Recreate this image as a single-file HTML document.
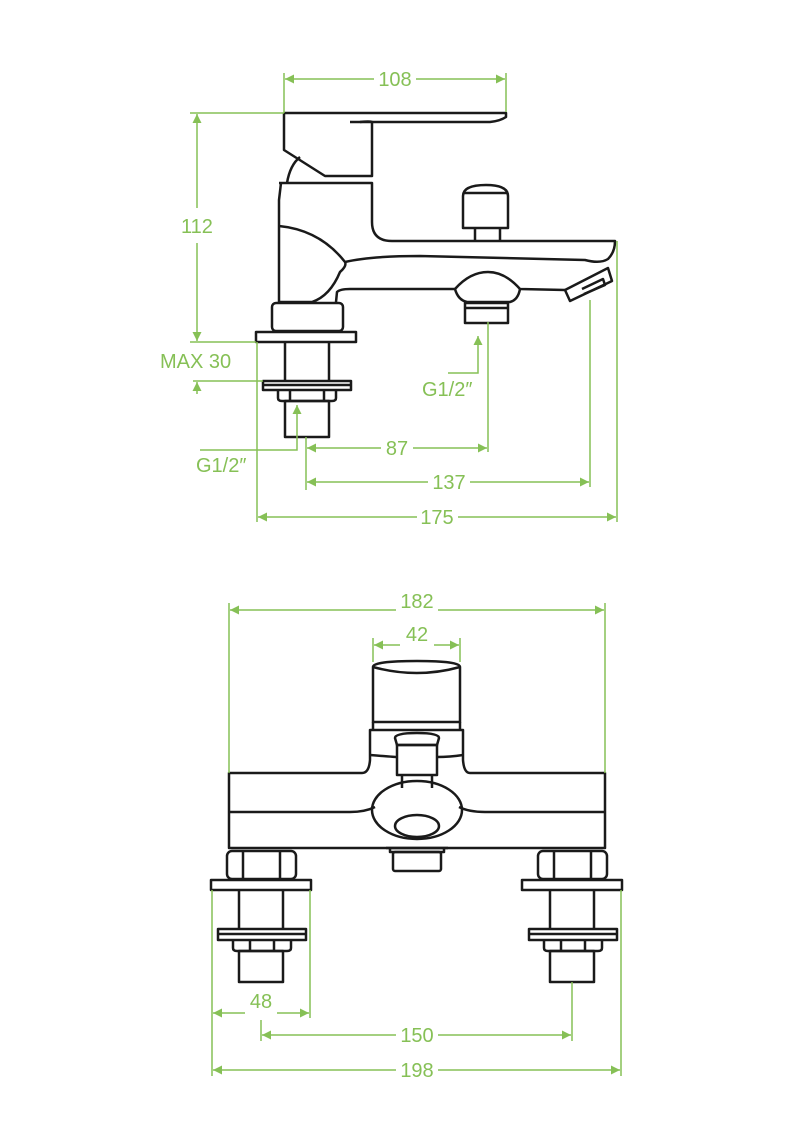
<!DOCTYPE html>
<html><head><meta charset="utf-8"><style>
html,body{margin:0;padding:0;background:#fff}
svg{display:block}
text{font-family:"Liberation Sans",sans-serif;font-size:20px;fill:#86c056}
</style></head><body>
<svg width="794" height="1123" viewBox="0 0 794 1123" xmlns="http://www.w3.org/2000/svg">
<defs>
<marker id="a" viewBox="0 0 10 10" refX="10" refY="5" markerWidth="12" markerHeight="9" orient="auto-start-reverse" markerUnits="userSpaceOnUse"><path d="M0,0 L10,5 L0,10 Z" fill="#86c056"/></marker>
</defs>
<!-- ============ SIDE VIEW ============ -->
<g fill="none" stroke="#1a1a1a" stroke-width="2.5" stroke-linejoin="round">
  <path d="M284,113 L506,113 L506,117 Q500,121 490,122 L350,122"/>
  <path d="M284,113 L284,150 L325,176 L372,176 L372,122 Q370,121 360,122"/>
  <path d="M300,157 Q290,165 287,183"/>
  <path d="M287,183 L372,183 L372,222 Q372,241 392,241 L615,241 Q615,252 608,259 Q600,264 585,260 L420,256 Q370,256 345,262"/>
  <path d="M279,183 L287,183"/>
  <path d="M281,183 L279,200 L279,302"/>
  <path d="M279,226 Q320,230 345,262 Q347,266 340,272 Q330,296 312,302 L279,302"/>
  <path d="M336,302 L337,292 Q340,289 350,289 L455,289"/>
  <path d="M455,289 Q470,272 488,272 Q505,272 520,289 L565,290"/>
  <path d="M455,289 Q458,300 467,302 L510,302 Q518,300 520,289"/>
  <path d="M565,290 L608,268 L612,281 L570,301 Z"/>
  <path d="M582,289 L603,279 L605,285 L584,294"/>
  <path d="M463,196 Q463,185 486,185 Q508,185 508,196 L508,228 L463,228 Z"/>
  <path d="M463,193 L508,193"/>
  <path d="M475,228 L475,241 M500,228 L500,241"/>
  <rect x="465" y="303" width="43" height="20"/>
  <path d="M465,308 L508,308"/>
  <rect x="272" y="303" width="71" height="28" rx="4"/>
  <rect x="256" y="332" width="100" height="10"/>
  <path d="M285,342 L285,380 M329,342 L329,380"/>
  <rect x="263" y="381" width="88" height="9"/>
  <path d="M263,385 L351,385"/>
  <path d="M278,390 L278,398 Q278,401 282,401 L332,401 Q336,401 336,398 L336,390 M290,390 L290,401 M324,390 L324,401"/>
  <rect x="285" y="401" width="44" height="36"/>
</g>
<g stroke="#86c056" stroke-width="1.5" fill="none">
  <path d="M284,73 L284,113 M506,73 L506,112"/>
  <path d="M285,79 L374,79 M416,79 L505,79" marker-start="url(#a)" marker-end="url(#a)"/>
  <path d="M190,113 L284,113 M190,342 L256,342"/>
  <path d="M197,114 L197,208 M197,243 L197,341" marker-start="url(#a)" marker-end="url(#a)"/>
  <path d="M193,381 L263,381"/>
  <path d="M197,394 L197,382" marker-end="url(#a)"/>
  <path d="M448,373 L478,373 L478,336" marker-end="url(#a)"/>
  <path d="M200,450 L297,450 L297,405" marker-end="url(#a)"/>
  <path d="M306,437 L306,490 M488,322 L488,452 M590,300 L590,487 M257,342 L257,522 M617,241 L617,522"/>
  <path d="M307,448 L381,448 M413,448 L487,448" marker-start="url(#a)" marker-end="url(#a)"/>
  <path d="M307,482 L428,482 M470,482 L589,482" marker-start="url(#a)" marker-end="url(#a)"/>
  <path d="M258,517 L417,517 M458,517 L616,517" marker-start="url(#a)" marker-end="url(#a)"/>
</g>
<text x="395" y="86" text-anchor="middle">108</text>
<text x="197" y="233" text-anchor="middle">112</text>
<text x="160" y="368">MAX 30</text>
<text x="422" y="396">G1/2″</text>
<text x="196" y="472">G1/2″</text>
<text x="397" y="455" text-anchor="middle">87</text>
<text x="449" y="489" text-anchor="middle">137</text>
<text x="437" y="524" text-anchor="middle">175</text>

<!-- ============ FRONT VIEW ============ -->
<g fill="none" stroke="#1a1a1a" stroke-width="2.5" stroke-linejoin="round">
  <path d="M373,667 Q373,661 417,661 Q460,661 460,667 L460,722 L373,722 Z"/>
  <path d="M373,667 Q417,679 460,667"/>
  <path d="M373,722 L373,730 M460,722 L460,730"/>
  <path d="M370,730 L463,730 L463,760 Q464,773 470,773 L605,773 L605,848 L229,848 L229,773 L362,773 Q369,773 370,760 Z"/>
  <path d="M370,755 Q395,757 397,757 M437,757 Q450,757 463,755"/>
  <path d="M395,738 Q395,733 417,733 Q439,733 439,738 L437,745 L397,745 Z"/>
  <rect x="397" y="745" width="40" height="30"/>
  <path d="M402,775 L402,788 M432,775 L432,788"/>
  <path d="M229,812 L350,812 Q365,812 375,807 M459,807 Q469,812 485,812 L605,812"/>
  <ellipse cx="417" cy="810" rx="45" ry="29"/>
  <ellipse cx="417" cy="826" rx="22" ry="11"/>
  <path d="M390,848 L390,852 L444,852 L444,848"/>
  <path d="M386,848 L448,848"/>
  <rect x="393" y="852" width="48" height="19" rx="2"/>
  <rect x="227" y="851" width="69" height="28" rx="5"/>
  <path d="M243,851 L243,879 M280,851 L280,879"/>
  <rect x="211" y="880" width="100" height="10"/>
  <path d="M239,890 L239,928 M283,890 L283,928"/>
  <rect x="218" y="929" width="88" height="11"/>
  <path d="M218,934 L306,934"/>
  <path d="M233,940 L233,948 Q233,951 237,951 L287,951 Q291,951 291,948 L291,940 M250,940 L250,951 M274,940 L274,951"/>
  <rect x="239" y="951" width="44" height="31"/>
  <rect x="538" y="851" width="69" height="28" rx="5"/>
  <path d="M554,851 L554,879 M591,851 L591,879"/>
  <rect x="522" y="880" width="100" height="10"/>
  <path d="M550,890 L550,928 M594,890 L594,928"/>
  <rect x="529" y="929" width="88" height="11"/>
  <path d="M529,934 L617,934"/>
  <path d="M544,940 L544,948 Q544,951 548,951 L598,951 Q602,951 602,948 L602,940 M561,940 L561,951 M585,940 L585,951"/>
  <rect x="550" y="951" width="44" height="31"/>
</g>
<g stroke="#86c056" stroke-width="1.5" fill="none">
  <path d="M229,603 L229,773 M605,603 L605,773"/>
  <path d="M230,610 L396,610 M438,610 L604,610" marker-start="url(#a)" marker-end="url(#a)"/>
  <path d="M373,638 L373,662 M460,638 L460,662"/>
  <path d="M374,645 L400,645 M434,645 L459,645" marker-start="url(#a)" marker-end="url(#a)"/>
  <path d="M212,890 L212,1076 M310,890 L310,1018 M261,1020 L261,1041 M572,982 L572,1041 M621,890 L621,1076"/>
  <path d="M213,1013 L245,1013 M277,1013 L309,1013" marker-start="url(#a)" marker-end="url(#a)"/>
  <path d="M262,1035 L396,1035 M438,1035 L571,1035" marker-start="url(#a)" marker-end="url(#a)"/>
  <path d="M213,1070 L396,1070 M438,1070 L620,1070" marker-start="url(#a)" marker-end="url(#a)"/>
</g>
<text x="417" y="608" text-anchor="middle">182</text>
<text x="417" y="641" text-anchor="middle">42</text>
<text x="261" y="1008" text-anchor="middle">48</text>
<text x="417" y="1042" text-anchor="middle">150</text>
<text x="417" y="1077" text-anchor="middle">198</text>
</svg>
</body></html>
